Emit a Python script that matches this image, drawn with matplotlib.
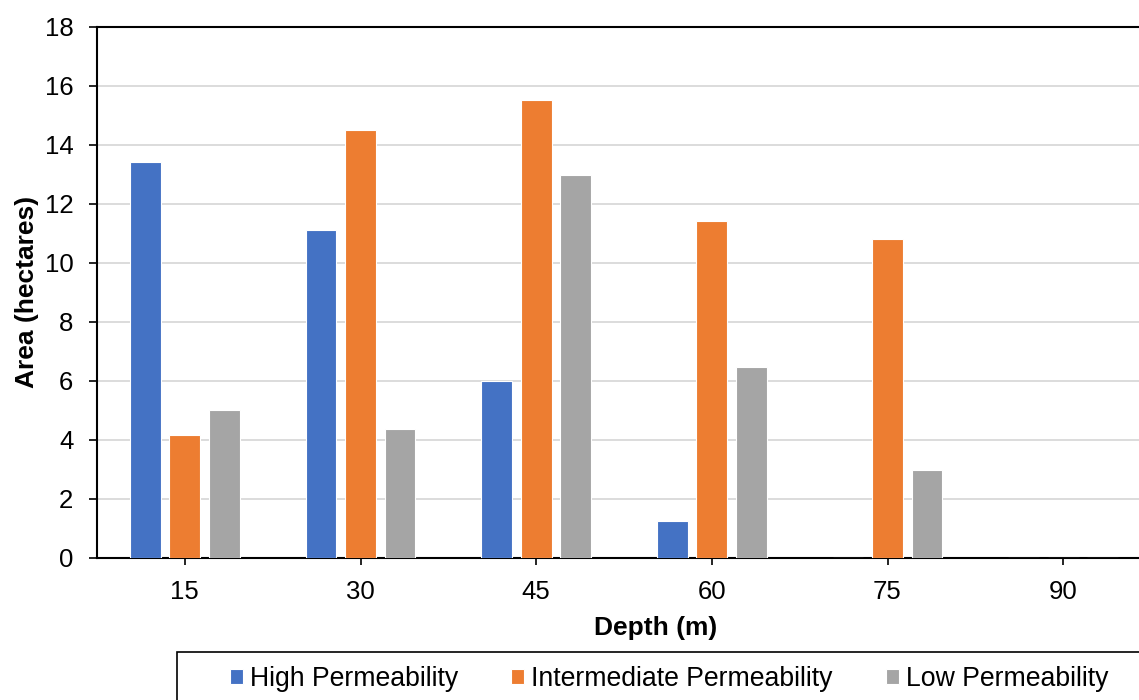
import numpy as np
import matplotlib
matplotlib.use("Agg")
import matplotlib.pyplot as plt
from matplotlib.patches import Rectangle

plt.rcParams["font.family"] = ["Liberation Sans", "DejaVu Sans"]

# area (hectares) by depth, per permeability class
depths = ["15", "30", "45", "60", "75", "90"]
high = [13.4, 11.1, 6.0, 1.25, 0.0, 0.0]
intermediate = [4.15, 14.5, 15.5, 11.4, 10.8, 0.0]
low = [5.0, 4.35, 12.95, 6.45, 2.95, 0.0]
series_names = ["High Permeability", "Intermediate Permeability", "Low Permeability"]
yticks = [0, 2, 4, 6, 8, 10, 12, 14, 16, 18]

BLUE = "#4472C4"; ORANGE = "#ED7D31"; GREY = "#A5A5A5"; GRID = "#D9D9D9"
FS = 18.5

W, H = 1139, 700
fig = plt.figure(figsize=(W / 100, H / 100), dpi=100)
ax = fig.add_axes([97 / W, 1 - 557.5 / H, (1151 - 97) / W, (557.5 - 26.5) / H])

x = np.arange(len(depths))
bw = 0.175
off = 0.225
for vals, c, name, dx in zip([high, intermediate, low], [BLUE, ORANGE, GREY],
                             series_names, [-off, 0, off]):
    ax.bar(x + dx, vals, width=bw, color=c, edgecolor="white", linewidth=0.8,
           label=name, zorder=3)

ax.set_xlim(-0.5, len(depths) - 0.5)
ax.set_ylim(0, 18)
ax.set_yticks(yticks)
ax.set_xticks(x)
ax.set_xticklabels(depths)
ax.yaxis.grid(True, color=GRID, lw=1.3, zorder=0)
ax.set_axisbelow(True)
ax.tick_params(axis="y", length=6, width=1.2, pad=11, labelsize=FS)
ax.tick_params(axis="x", length=5, width=1.2, pad=11, labelsize=FS)
for s in ["left", "bottom", "top"]:
    ax.spines[s].set_linewidth(1.5)
    ax.spines[s].set_color("black")
ax.spines["right"].set_visible(False)

ax.set_xlabel("Depth (m)", fontsize=19, fontweight="bold")
ax.xaxis.set_label_coords((656 - 97) / 1054, (557.5 - 616) / 531)
ax.set_ylabel("Area (hectares)", fontsize=19, fontweight="bold", labelpad=4)

handles, labels = ax.get_legend_handles_labels()
fig.legend(handles, labels, loc="center", bbox_to_anchor=(669 / W, 1 - 679 / H),
           ncol=3, frameon=False, fontsize=19.2, handlelength=0.5, handleheight=0.5,
           handletextpad=0.25, columnspacing=2.0)
fig.patches.append(Rectangle((177 / W, -0.05), (1161 - 177) / W, 1 - 652 / H + 0.05,
                             transform=fig.transFigure, fill=False,
                             edgecolor="black", lw=1.2))

fig.savefig("out.png", dpi=100)
